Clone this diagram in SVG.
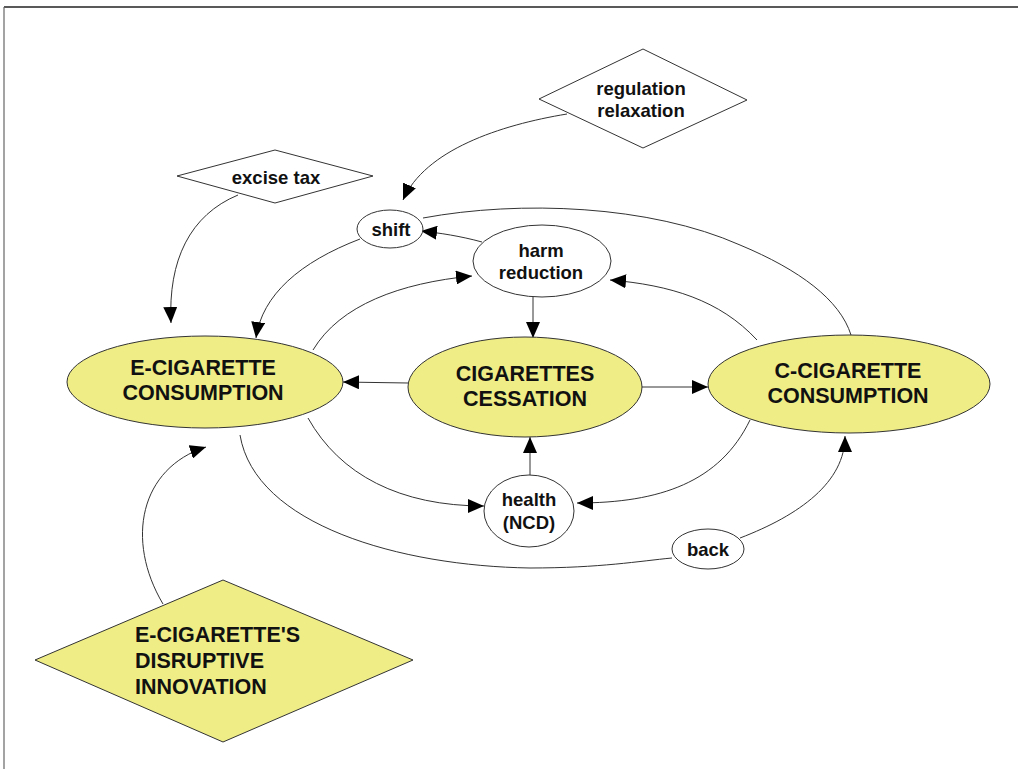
<svg xmlns="http://www.w3.org/2000/svg" width="1018" height="769" viewBox="0 0 1018 769">
<style>
.nd{fill:#ffffff;stroke:#333;stroke-width:1}
.yl{fill:#efed86;stroke:#333;stroke-width:1}
.t{font-family:"Liberation Sans",Arial,sans-serif;font-weight:bold;font-size:18.5px;fill:#111;text-anchor:middle}
.T{font-family:"Liberation Sans",Arial,sans-serif;font-weight:bold;font-size:21.5px;fill:#111;text-anchor:middle}
.c{fill:none;stroke:#333;stroke-width:1}
</style>
<defs>
<marker id="ah" markerWidth="16" markerHeight="14" refX="16" refY="7" orient="auto" markerUnits="userSpaceOnUse">
<path d="M0,0 L16,7 L0,14 z" fill="#000"/>
</marker>
</defs>
<rect width="1018" height="769" fill="#fff"/>
<line x1="4" y1="7" x2="1018" y2="7" stroke="#222" stroke-width="1.5"/>
<line x1="4" y1="7" x2="4" y2="769" stroke="#666" stroke-width="1.2"/>

<g id="connectors">
<path class="c" d="M567,114 C500,125 425,150 403,200" marker-end="url(#ah)"/>
<path class="c" d="M238,195 C190,215 168,260 171,323" marker-end="url(#ah)"/>
<path class="c" d="M360,239 C300,262 262,295 256,338" marker-end="url(#ah)"/>
<path class="c" d="M313,350 C340,305 400,283 472,276" marker-end="url(#ah)"/>
<path class="c" d="M482,242 C460,236 440,233 421,231" marker-end="url(#ah)"/>
<path class="c" d="M423,218 C520,200 650,205 740,245 C800,270 840,300 851,335"/>
<path class="c" d="M757,340 C720,300 670,285 610,280" marker-end="url(#ah)"/>
<path class="c" d="M533,297 L533,338" marker-end="url(#ah)"/>
<path class="c" d="M408,383 L343,382" marker-end="url(#ah)"/>
<path class="c" d="M640,387 L708,387" marker-end="url(#ah)"/>
<path class="c" d="M530,475 L530,437" marker-end="url(#ah)"/>
<path class="c" d="M308,418 C340,475 400,506 484,506" marker-end="url(#ah)"/>
<path class="c" d="M750,420 C720,482 660,503 577,503" marker-end="url(#ah)"/>
<path class="c" d="M240,435 C255,525 400,566 530,568 C600,568 640,561 672,558"/>
<path class="c" d="M740,538 C800,515 845,482 845,436" marker-end="url(#ah)"/>
<path class="c" d="M163,604 C125,540 140,468 206,447" marker-end="url(#ah)"/>
</g>

<g id="regulation">
<polygon class="nd" points="539,99 643,49 747,100 643,148"/>
<text class="t" x="641" y="95">regulation</text>
<text class="t" x="641" y="117">relaxation</text>
</g>
<g id="excise">
<polygon class="nd" points="177,176 275,150 373,176 275,203"/>
<text class="t" x="276" y="184">excise tax</text>
</g>
<g id="shift">
<ellipse class="nd" cx="390" cy="229" rx="33" ry="19"/>
<text class="t" x="391" y="236">shift</text>
</g>
<g id="harm">
<ellipse class="nd" cx="542" cy="261" rx="69" ry="36"/>
<text class="t" x="541" y="257">harm</text>
<text class="t" x="541" y="279">reduction</text>
</g>
<g id="ecig">
<ellipse class="yl" cx="205" cy="382" rx="138" ry="46"/>
<text class="T" x="203" y="375">E-CIGARETTE</text>
<text class="T" x="203" y="400">CONSUMPTION</text>
</g>
<g id="cessation">
<ellipse class="yl" cx="525" cy="387" rx="117" ry="50"/>
<text class="T" x="525" y="381">CIGARETTES</text>
<text class="T" x="525" y="406">CESSATION</text>
</g>
<g id="ccig">
<ellipse class="yl" cx="849" cy="384" rx="141" ry="49"/>
<text class="T" x="848" y="378">C-CIGARETTE</text>
<text class="T" x="848" y="403">CONSUMPTION</text>
</g>
<g id="health">
<ellipse class="nd" cx="529" cy="511" rx="45" ry="36"/>
<text class="t" x="529" y="506">health</text>
<text class="t" x="529" y="529">(NCD)</text>
</g>
<g id="back">
<ellipse class="nd" cx="708" cy="549" rx="36" ry="20"/>
<text class="t" x="708" y="556">back</text>
</g>
<g id="innovation">
<polygon class="yl" points="35,660 223,580 413,660 223,742"/>
<text class="T" x="135" y="642" style="text-anchor:start">E-CIGARETTE'S</text>
<text class="T" x="135" y="668" style="text-anchor:start">DISRUPTIVE</text>
<text class="T" x="135" y="694" style="text-anchor:start">INNOVATION</text>
</g>
</svg>
